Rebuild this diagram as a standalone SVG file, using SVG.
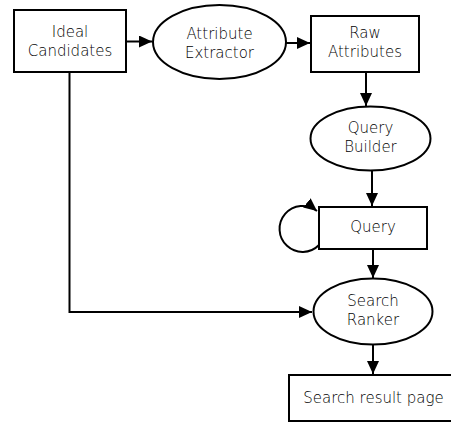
<svg xmlns="http://www.w3.org/2000/svg" width="451" height="422" viewBox="0 0 451 422">
<style>
.shape{fill:#fff;stroke:#000;stroke-width:2}
.edge{fill:none;stroke:#000;stroke-width:2}
text{font-family:"DejaVu Sans",sans-serif;font-size:15px;font-weight:200;fill:#000;text-anchor:middle}
</style>
<defs>
<marker id="arr" viewBox="0 0 13 12" refX="13" refY="6" markerWidth="13" markerHeight="12" markerUnits="userSpaceOnUse" orient="auto">
<path d="M0,0 L13,6 L0,12 z" fill="#000"/>
</marker>
</defs>
<rect width="451" height="422" fill="#fff"/>
<g id="connectors">
<path class="edge" d="M126,41.5 L152,41.5" marker-end="url(#arr)"/>
<path class="edge" d="M286,43 L310,43" marker-end="url(#arr)"/>
<path class="edge" d="M366,72 L366,106" marker-end="url(#arr)"/>
<path class="edge" d="M372,170.5 L372,206" marker-end="url(#arr)"/>
<path class="edge" d="M319,245 A23,23 0 1 1 317,211" marker-end="url(#arr)"/>
<path class="edge" d="M373,249 L373,278" marker-end="url(#arr)"/>
<path class="edge" d="M69.5,72 L69.5,312 L312,312" marker-end="url(#arr)"/>
<path class="edge" d="M373,345 L373,374" marker-end="url(#arr)"/>
</g>
<g id="ideal">
<rect class="shape" x="14" y="10" width="112" height="62"/>
<text x="70" y="37">Ideal</text>
<text x="70" y="56">Candidates</text>
</g>
<g id="extractor">
<ellipse class="shape" cx="219.5" cy="42" rx="66.5" ry="37"/>
<text x="219.5" y="38.5">Attribute</text>
<text x="219.5" y="58">Extractor</text>
</g>
<g id="raw">
<rect class="shape" x="311" y="16" width="108" height="56"/>
<text x="365" y="38">Raw</text>
<text x="365" y="57">Attributes</text>
</g>
<g id="builder">
<ellipse class="shape" cx="370.5" cy="138.5" rx="60" ry="32"/>
<text x="370.5" y="133">Query</text>
<text x="370.5" y="152">Builder</text>
</g>
<g id="query">
<rect class="shape" x="319" y="207" width="108" height="42"/>
<text x="373" y="232">Query</text>
</g>
<g id="ranker">
<ellipse class="shape" cx="373" cy="311.5" rx="59.5" ry="33"/>
<text x="373" y="305.5">Search</text>
<text x="373" y="324.5">Ranker</text>
</g>
<g id="result">
<rect class="shape" x="289" y="375" width="170" height="46"/>
<text x="373.5" y="403">Search result page</text>
</g>
</svg>
